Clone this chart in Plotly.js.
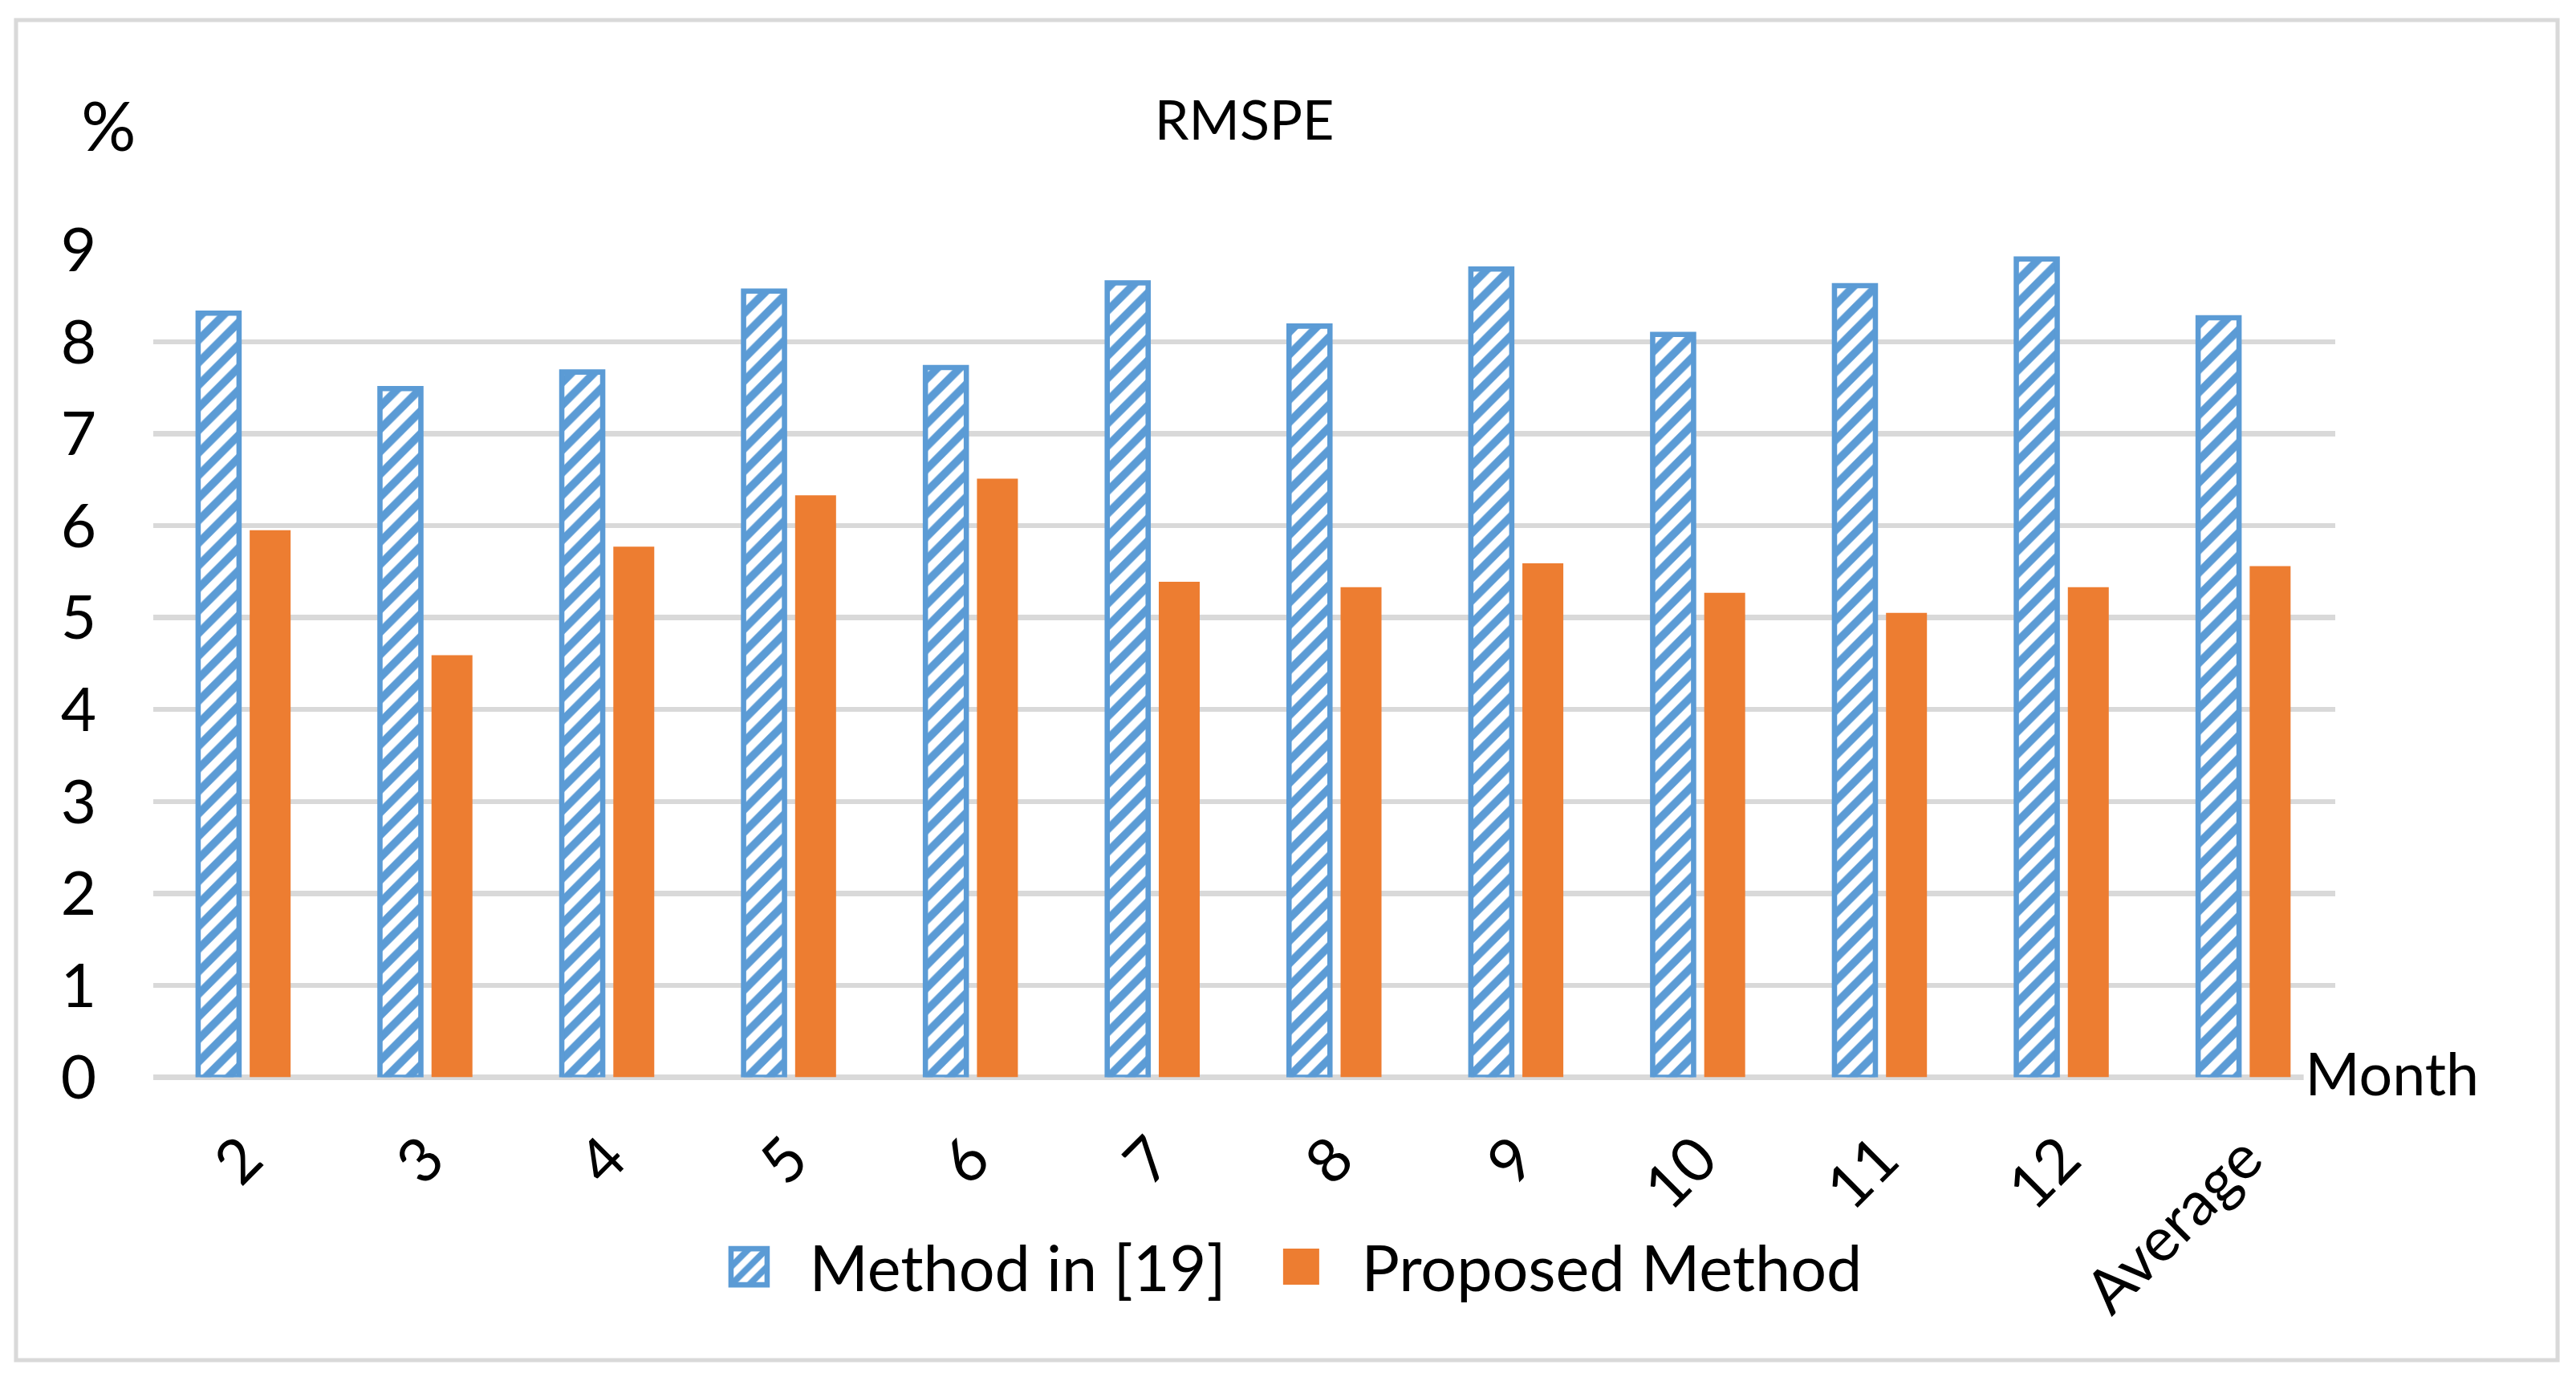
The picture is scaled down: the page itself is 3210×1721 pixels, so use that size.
<!DOCTYPE html>
<html>
<head>
<meta charset="utf-8">
<script src="https://cdn.plot.ly/plotly-3.0.1.min.js"></script>
<style>
  html, body { margin: 0; padding: 0; background: #ffffff; width: 3210px; height: 1721px; }
  #wrap { position: relative; width: 3210px; height: 1721px; overflow: visible; }
  #chart { position: absolute; left: 0; top: 0; width: 856px; height: 459px;
           transform: scale(3.75); transform-origin: 0 0; }
</style>
</head>
<body>
<div id="wrap"><div id="chart"></div></div>
<script>
// ---- data ----
const months = ['2', '3', '4', '5', '6', '7', '8', '9', '10', '11', '12', 'Average'];
const methodIn19 = [8.31, 7.49, 7.67, 8.55, 7.72, 8.64, 8.17, 8.79, 8.08, 8.61, 8.90, 8.26];
const proposedMethod = [5.95, 4.59, 5.77, 6.33, 6.51, 5.39, 5.33, 5.59, 5.27, 5.05, 5.33, 5.56];
const seriesNames = ['Method in [19]', 'Proposed Method'];
const yTicks = [0, 1, 2, 3, 4, 5, 6, 7, 8, 9];

// ---- styling ----
const BLUE = '#5B9BD5';
const ORANGE = '#ED7D31';
const GRID = '#D9D9D9';
const FONT = 'Lato, "Open Sans", sans-serif';

const traces = [
  {
    type: 'bar',
    name: seriesNames[0],
    x: months,
    y: methodIn19,
    marker: {
      color: BLUE,
      line: { color: BLUE, width: 1.75 },
      pattern: { shape: '/', fgcolor: BLUE, bgcolor: '#ffffff', size: 5.3, solidity: 0.5 }
    },
    hoverinfo: 'skip'
  },
  {
    type: 'bar',
    name: seriesNames[1],
    x: months,
    y: proposedMethod,
    marker: { color: ORANGE, line: { width: 0 } },
    hoverinfo: 'skip'
  }
];

const layout = {
  width: 856,
  height: 459,
  margin: { l: 51, r: 80, t: 83, b: 101, pad: 0 },
  paper_bgcolor: '#ffffff',
  plot_bgcolor: '#ffffff',
  font: { family: FONT, color: '#000000', size: 20.4 },
  barmode: 'group',
  bargap: 0.433,
  bargroupgap: 0.206,
  title: {
    text: 'RMSPE',
    font: { family: FONT, size: 18.2, color: '#000000' },
    x: 0.5, xref: 'paper', xanchor: 'center',
    y: 0.913, yref: 'container', yanchor: 'middle'
  },
  xaxis: {
    type: 'category',
    showgrid: false,
    showline: false,
    zeroline: false,
    ticks: '',
    tickangle: -45,
    tickfont: { family: FONT, size: 20.4, color: '#000000' },
    ticklabelstandoff: 10
  },
  yaxis: {
    range: [0, 9],
    tickvals: yTicks,
    ticktext: yTicks.map(String),
    showgrid: true,
    gridcolor: GRID,
    gridwidth: 1.7,
    zeroline: true,
    zerolinecolor: GRID,
    zerolinewidth: 1.7,
    showline: false,
    ticks: '',
    tickfont: { family: FONT, size: 20.4, color: '#000000' },
    ticklabelstandoff: 18
  },
  showlegend: true,
  legend: {
    orientation: 'h',
    x: 0.2454, xanchor: 'left',
    y: -0.230, yanchor: 'middle',
    font: { family: FONT, size: 21.1, color: '#000000' },
    bgcolor: 'rgba(0,0,0,0)',
    borderwidth: 0,
    traceorder: 'normal'
  },
  shapes: [
    {
      type: 'rect', xref: 'paper', yref: 'paper', layer: 'below',
      x0: -0.063, x1: 1.1019, y0: -0.3418, y1: 1.2776,
      line: { color: GRID, width: 1.35 },
      fillcolor: 'rgba(0,0,0,0)'
    }
  ],
  annotations: [
    {
      text: '%', xref: 'paper', yref: 'paper',
      x: -0.0207, y: 1.1525, xanchor: 'center', yanchor: 'middle',
      showarrow: false,
      font: { family: FONT, size: 22.7, color: '#000000' }
    },
    {
      text: 'Month', xref: 'paper', yref: 'paper',
      x: 0.9852, y: 0.004, xanchor: 'left', yanchor: 'middle',
      showarrow: false, bgcolor: '#ffffff', borderpad: 0,
      font: { family: FONT, size: 19.6, color: '#000000' }
    }
  ]
};

Plotly.newPlot('chart', traces, layout, { staticPlot: true, displayModeBar: false });
</script>
</body>
</html>
